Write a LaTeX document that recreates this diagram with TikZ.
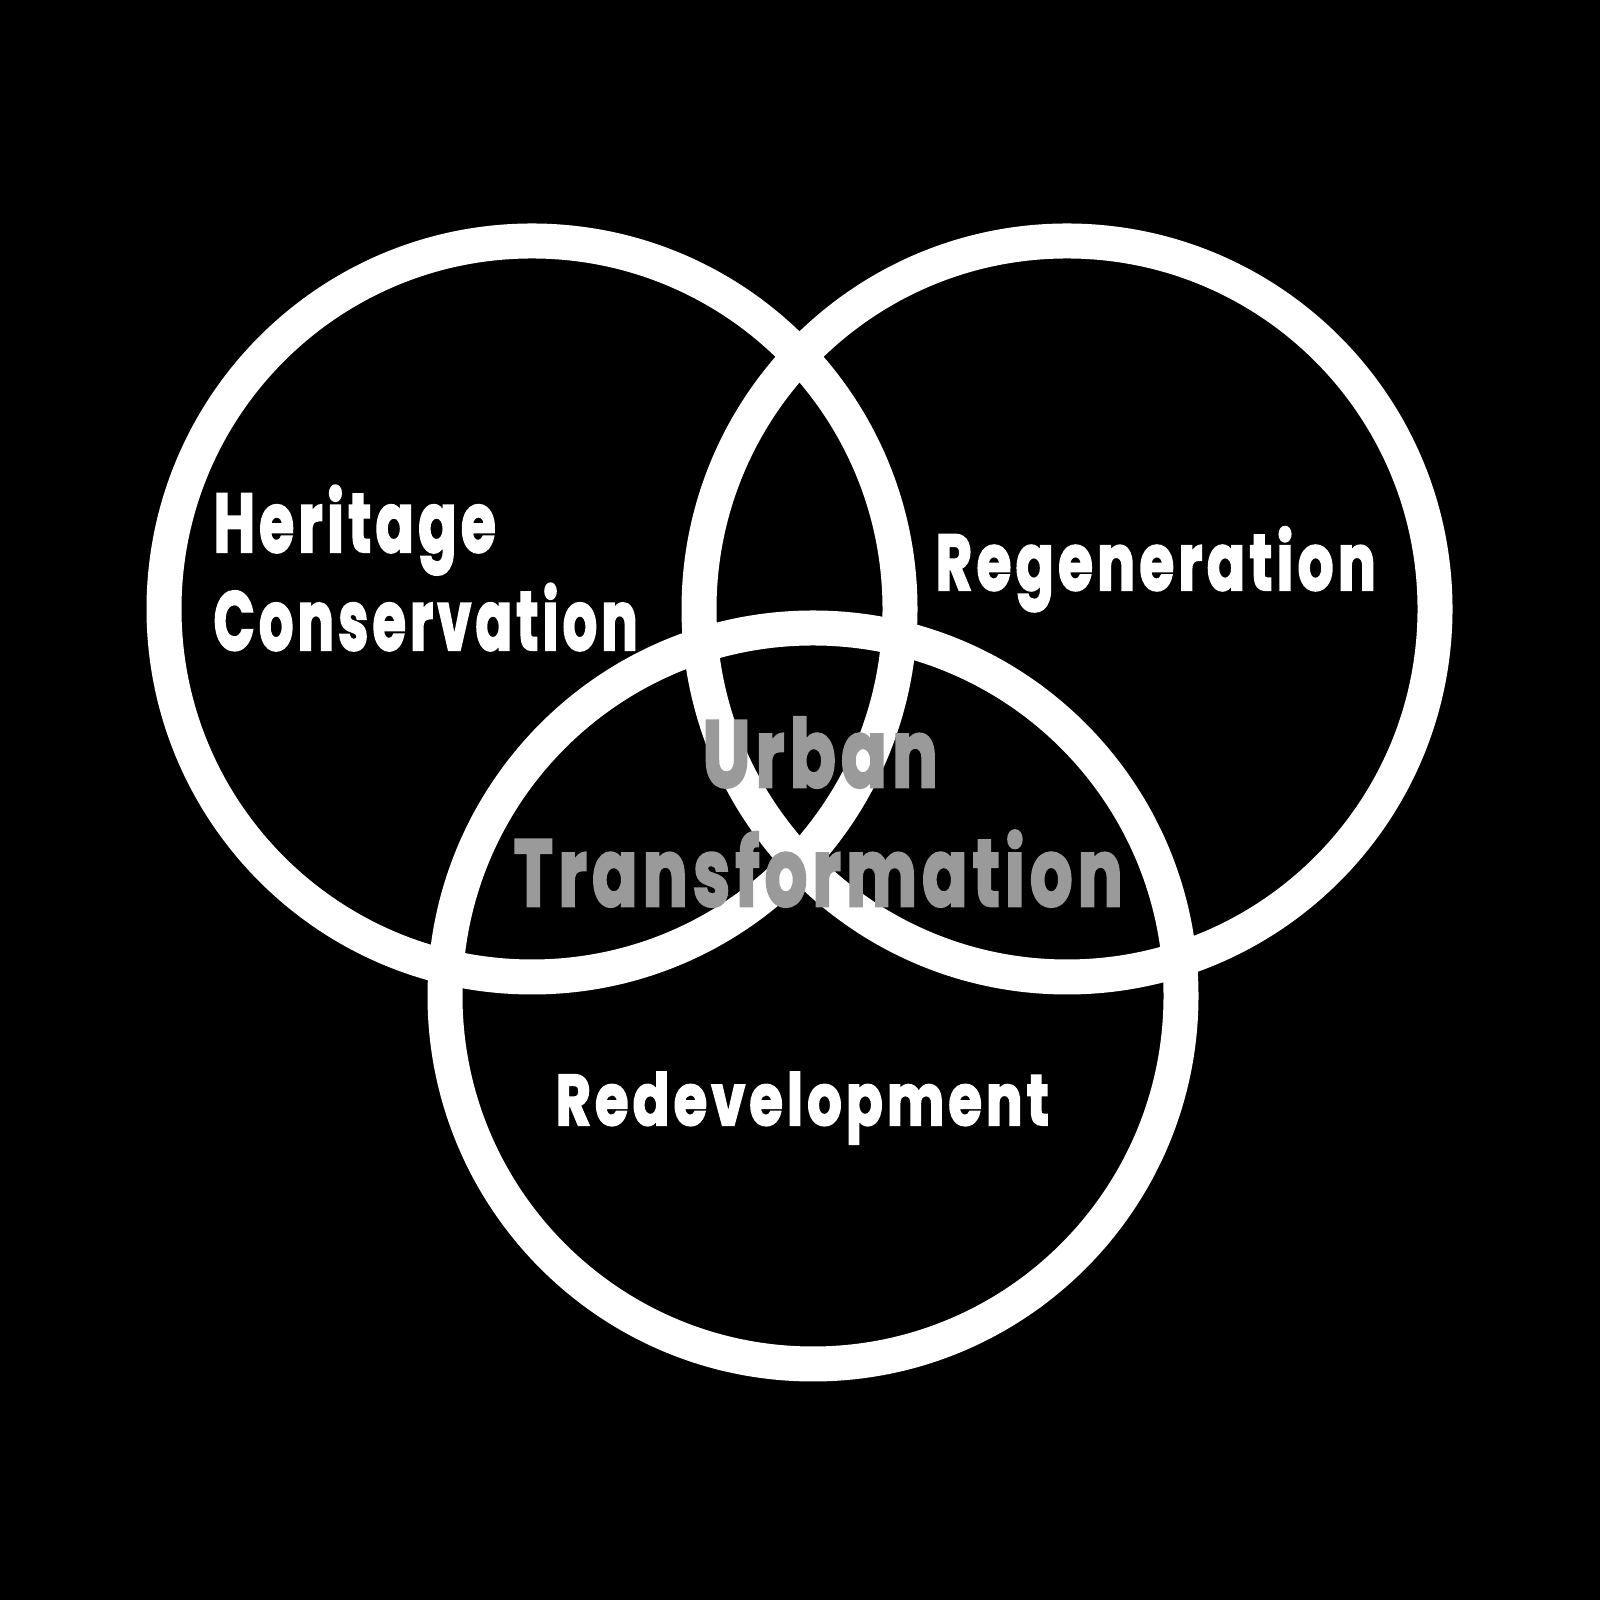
\documentclass[tikz,border=0pt]{standalone}
\usepackage{fontspec}
\setmainfont{Poppins}[BoldFeatures={FakeBold=3,LetterSpace=8}]
\usepackage{graphicx}
\usepackage{tikz}
\usetikzlibrary{positioning}

\definecolor{urbangray}{HTML}{9A9A9A}
\tikzset{
  ring/.style={circle,draw=white,line width=0.35cm,minimum size=7.36cm,inner sep=0pt},
  wordlbl/.style={anchor=base west,inner sep=0pt,text=white},
}
% squeeze a word to a given width, keeping its height
\newcommand{\squeeze}[2]{\resizebox{#1}{\height}{\bfseries #2}}

\begin{document}
\begin{tikzpicture}[x=1cm,y=1cm]
\fill[black] (0,0) rectangle (16,16);

% the three rings
\node[ring] (heritage) at (5.32,9.91) {};
\node[ring] (regen) at (10.67,9.91) {};
\node[ring] (redev) at (8.13,6.04) {};

% labels
\node[wordlbl,font=\fontsize{23.6}{28}\selectfont] (hcA) at (2.13,10.48) {\squeeze{2.82cm}{Heritage}};
\node[wordlbl,font=\fontsize{23.6}{28}\selectfont] (hcB) at (2.13,9.50) {\squeeze{4.24cm}{Conservation}};
\node[wordlbl,font=\fontsize{22.4}{27}\selectfont] (rgA) at (9.35,10.10) {\squeeze{4.40cm}{Regeneration}};
\node[wordlbl,font=\fontsize{20.3}{24}\selectfont] (rdA) at (5.55,4.75) {\squeeze{4.93cm}{Redevelopment}};

\node[wordlbl,text=urbangray,font=\fontsize{26.8}{32}\selectfont] (utA) at (7.02,8.13) {\squeeze{2.35cm}{Urban}};
\node[wordlbl,text=urbangray,font=\fontsize{26.8}{32}\selectfont] (utB) at (5.13,6.94) {\squeeze{6.09cm}{Transformation}};
\end{tikzpicture}
\end{document}
